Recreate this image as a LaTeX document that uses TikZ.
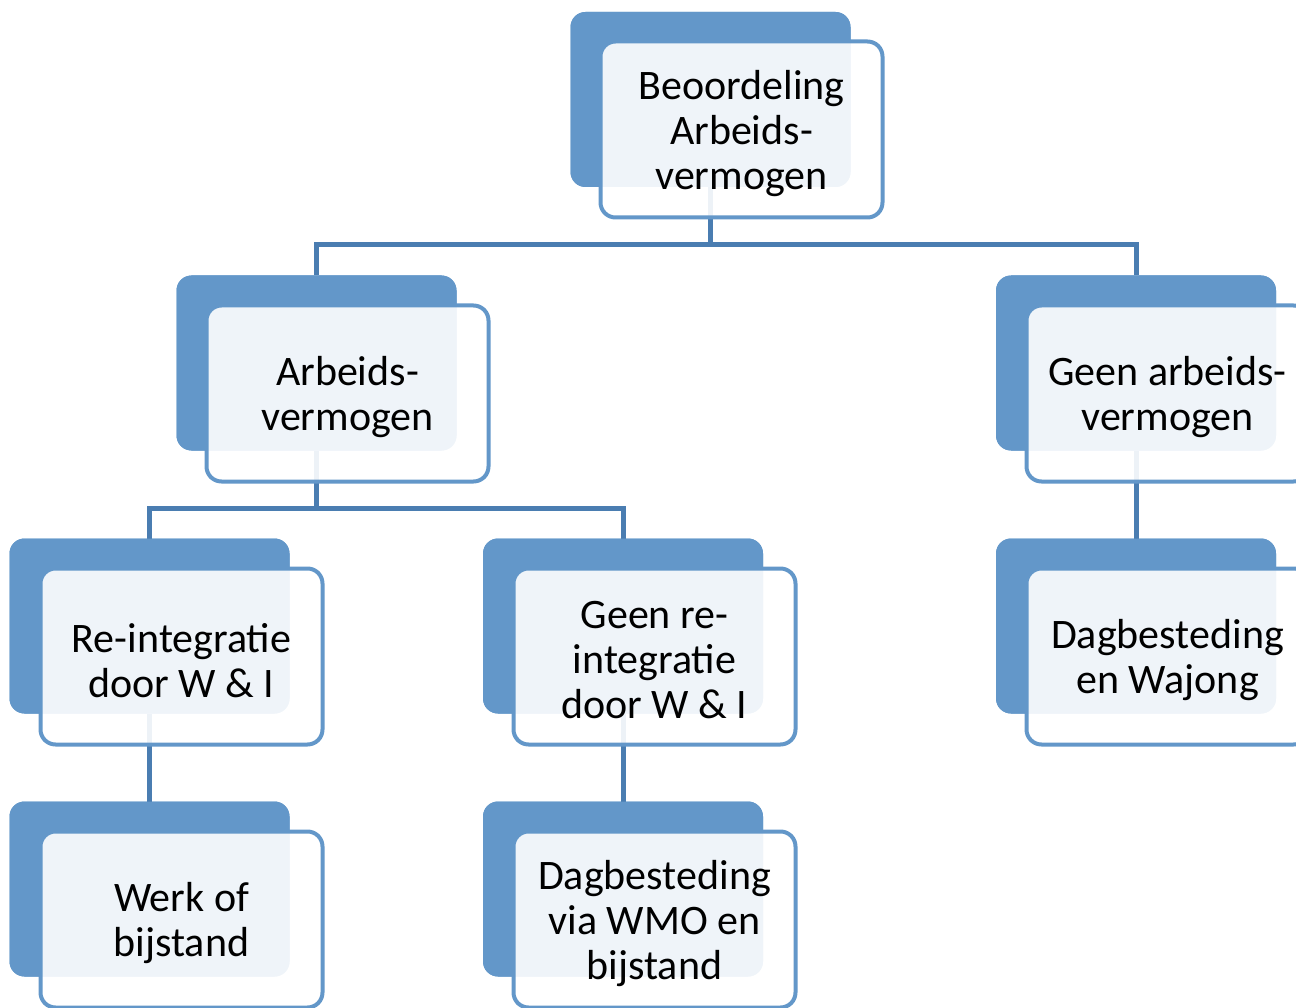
\documentclass[tikz,border=0pt]{standalone}
\usepackage{fontspec}
\setmainfont{Carlito}
\definecolor{backblue}{HTML}{6397C9}
\definecolor{connblue}{HTML}{4A7DB1}
\tikzset{
  backbox/.style={fill=backblue, rounded corners=15pt, minimum width=280pt, minimum height=175pt, inner sep=0pt, outer sep=0pt},
  frontbox/.style={draw=backblue, line width=4pt, fill=white, fill opacity=0.9, rounded corners=15pt, minimum width=282pt, minimum height=176pt, inner sep=0pt, outer sep=0pt},
  boxtext/.style={align=center, inner sep=0pt, yshift=-4pt, font=\fontsize{42}{45}\selectfont},
  conn/.style={draw=connblue, line width=5pt}
}
\begin{document}
\begin{tikzpicture}[x=1pt,y=-1pt]
\useasboundingbox (0,0) rectangle (1296,1008);
\clip (0,0) rectangle (1296,1008);
% back boxes (positions)
\node[backbox] (b1) at (710.5,99.5) {};
\node[backbox] (b2) at (316.5,363) {};
\node[backbox] (b3) at (1136,363) {};
\node[backbox] (b4) at (149.5,626) {};
\node[backbox] (b5) at (623,626) {};
\node[backbox] (b6) at (1136,626) {};
\node[backbox] (b7) at (149.5,889) {};
\node[backbox] (b8) at (623,889) {};
% connectors
\coordinate (m1) at (710.5,245);
\coordinate (m2) at (316.5,508);
\draw[conn] (b1.south) -- (b1.south |- m1) -| (b2.north);
\draw[conn] (b1.south |- m1) -| (b3.north);
\draw[conn] (b2.south) -- (b2.south |- m2) -| (b4.north);
\draw[conn] (b2.south |- m2) -| (b5.north);
\draw[conn] (b3.south) -- (b6.north);
\draw[conn] (b4.south) -- (b7.north);
\draw[conn] (b5.south) -- (b8.north);
% redraw back boxes over connectors
\foreach \b in {b1,b2,b3,b4,b5,b6,b7,b8}
  \fill[backblue, rounded corners=15pt] (\b.south west) rectangle (\b.north east);
% front boxes
\node[frontbox] (f1) at (741.5,129.5) {};
\node[frontbox] (f2) at (347.5,393.5) {};
\node[frontbox] (f3) at (1167.5,393.5) {};
\node[frontbox] (f4) at (181.5,656.5) {};
\node[frontbox] (f5) at (654.5,656.5) {};
\node[frontbox] (f6) at (1167.5,656.5) {};
\node[frontbox] (f7) at (181.5,919.5) {};
\node[frontbox] (f8) at (654.5,919.5) {};
% texts
\node[boxtext] (t1) at (f1) {Beoordeling\\Arbeids-\\vermogen};
\node[boxtext] (t2) at (f2) {Arbeids-\\vermogen};
\node[boxtext] (t3) at (f3) {Geen arbeids-\\vermogen};
\node[boxtext] (t4) at (f4) {Re-integratie\\door W \& I};
\node[boxtext] (t5) at (f5) {Geen re-\\integratie\\door W \& I};
\node[boxtext] (t6) at (f6) {Dagbesteding\\en Wajong};
\node[boxtext] (t7) at (f7) {Werk of\\bijstand};
\node[boxtext] (t8) at (f8) {Dagbesteding\\via WMO en\\bijstand};
\end{tikzpicture}
\end{document}
